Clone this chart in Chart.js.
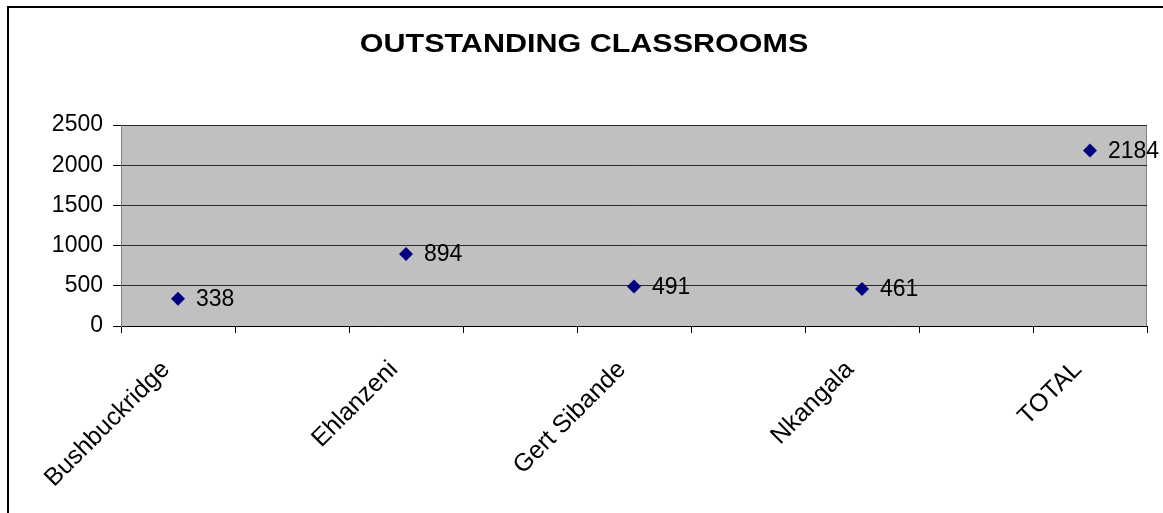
<!DOCTYPE html>
<html>
<head>
<meta charset="utf-8">
<script src="https://cdn.jsdelivr.net/npm/chart.js@4"></script>
<style>
  html, body { margin: 0; padding: 0; background: #fff; }
  #wrap { width: 1163px; height: 513px; }
</style>
</head>
<body>
<div id="wrap"><canvas id="classChart" width="1163" height="513"></canvas></div>
<script>
const titleText = 'OUTSTANDING CLASSROOMS';
const districts = ['Bushbuckridge', 'Ehlanzeni', 'Gert Sibande', 'Nkangala', 'TOTAL'];
const outstanding = [338, 894, 491, 461, 2184];
const yTicks = [0, 500, 1000, 1500, 2000, 2500];

const FONT = '"Liberation Sans", Arial, sans-serif';

// x positions 1..n, one per district
const points = districts.map((d, i) => ({ x: i + 1, y: outstanding[i] }));

// tick marks sit halfway between districts
const isBoundary = v => Math.abs(((v - 0.75) / 0.5) - Math.round((v - 0.75) / 0.5)) < 1e-6;

// frame, grey plot background, title, value labels
const decorations = {
    id: 'decorations',
    beforeDraw(chart) {
        const { ctx, chartArea: a } = chart;
        ctx.save();
        ctx.fillStyle = '#c0c0c0';
        ctx.fillRect(a.left, a.top, a.right - a.left, a.bottom - a.top);
        ctx.strokeStyle = '#808080';
        ctx.lineWidth = 1;
        ctx.strokeRect(a.left + 0.5, a.top + 0.5, a.right - a.left - 1, a.bottom - a.top);

        // outer chart border (left and top edges)
        ctx.strokeStyle = '#000';
        ctx.lineWidth = 2;
        ctx.beginPath();
        ctx.moveTo(8, chart.height);
        ctx.lineTo(8, 7);
        ctx.lineTo(chart.width, 7);
        ctx.stroke();

        ctx.fillStyle = '#000';
        ctx.font = 'bold 25px ' + FONT;
        ctx.textAlign = 'center';
        ctx.textBaseline = 'middle';
        ctx.translate(584, 45);
        ctx.scale(1.22, 1);
        ctx.fillText(titleText, 0, 0);
        ctx.restore();
    },
    afterDatasetsDraw(chart) {
        const { ctx } = chart;
        const meta = chart.getDatasetMeta(0);
        ctx.save();
        ctx.fillStyle = '#000';
        ctx.font = '23px ' + FONT;
        ctx.textAlign = 'left';
        ctx.textBaseline = 'middle';
        meta.data.forEach((pt, i) => {
            ctx.fillText(String(outstanding[i]), pt.x + 18, pt.y + 1);
        });
        ctx.restore();
    }
};

new Chart(document.getElementById('classChart'), {
    type: 'scatter',
    data: {
        datasets: [{
            label: 'Outstanding classrooms',
            data: points,
            pointStyle: 'rectRot',
            pointRadius: 7,
            pointHoverRadius: 7,
            backgroundColor: '#000080',
            borderColor: '#000080',
            borderWidth: 0
        }]
    },
    plugins: [decorations],
    options: {
        responsive: false,
        animation: false,
        layout: { padding: { left: 0, top: 125, right: 16, bottom: 0 } },
        plugins: {
            legend: { display: false },
            tooltip: { enabled: false },
            title: { display: false }
        },
        scales: {
            x: {
                type: 'linear',
                min: 0.75,
                max: 5.25,
                afterBuildTicks(axis) {
                    const t = [];
                    for (let v = 0.75; v <= 5.2501; v += 0.25) t.push({ value: v });
                    axis.ticks = t;
                },
                afterFit(scale) {
                    scale.height = 187;
                    scale.paddingLeft = 0;
                    scale.paddingRight = 0;
                },
                border: { color: '#000', width: 1 },
                grid: {
                    drawOnChartArea: false,
                    tickLength: 7,
                    tickColor(ctx) {
                        const v = ctx.tick ? ctx.tick.value : 0;
                        return isBoundary(v) ? '#000' : 'rgba(0,0,0,0)';
                    }
                },
                ticks: {
                    autoSkip: false,
                    minRotation: 45,
                    maxRotation: 45,
                    padding: 22,
                    labelOffset: -12,
                    color: '#000',
                    font: { family: FONT, size: 25 },
                    callback(v) {
                        return Number.isInteger(v) ? districts[v - 1] : '';
                    }
                }
            },
            y: {
                min: 0,
                max: 2500,
                afterBuildTicks(axis) {
                    axis.ticks = yTicks.map(v => ({ value: v }));
                },
                afterFit(scale) { scale.width = 121; },
                border: { color: '#808080', width: 1 },
                grid: {
                    color: '#2a2a2a',
                    tickLength: 8,
                    tickColor: '#000'
                },
                ticks: {
                    padding: 10,
                    color: '#000',
                    font: { family: FONT, size: 23 },
                    callback(v) { return String(v); }
                }
            }
        }
    }
});
</script>
</body>
</html>
